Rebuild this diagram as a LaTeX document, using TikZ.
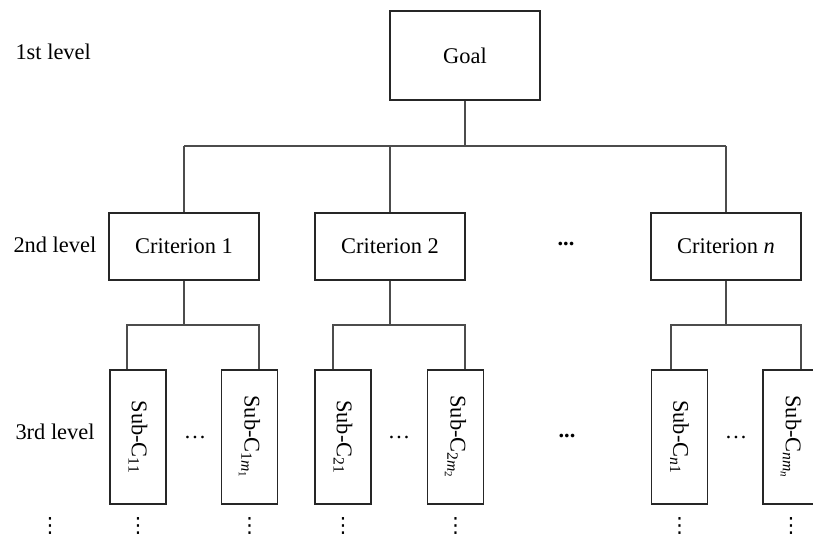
\documentclass[tikz,border=0pt]{standalone}
\usepackage{fontspec}
\setmainfont{Liberation Serif}
\newfontfamily\symfont{DejaVu Sans}
\newcommand\vdts{{\symfont\fontsize{21}{21}\selectfont ⋮}}
\begin{document}
\begin{tikzpicture}[x=1bp,y=-1bp,
  every node/.style={font=\fontsize{22.5}{26}\selectfont},
  box/.style={draw=black!85, line width=1.3bp, inner sep=0pt},
  critbox/.style={box, minimum width=150bp, minimum height=67bp},
  subbox/.style={box, minimum width=56bp, minimum height=134bp},
  link/.style={draw=black!70, line width=1.3bp},
  vd/.style={inner sep=0pt}
]
\clip (0,0) rectangle (813,538);
\fill[white] (0,0) rectangle (813,538);

% level labels
\node[anchor=west] (l1) at (12,52) {1st level};
\node[anchor=west] (l2) at (10,245) {2nd level};
\node[anchor=west] (l3) at (12,432) {3rd level};

% goal
\node[box, minimum width=150bp, minimum height=89bp] (goal) at (465,55.5) {Goal};

% criteria
\node[critbox] (c1) at (184,246.5) {Criterion 1};
\node[critbox] (c2) at (390,246.5) {Criterion 2};
\node[critbox] (cn) at (726,246.5) {Criterion \textit{n}};
\node (dots2) at (566,244) {\textbf{...}};

% top bar
\coordinate (tb) at (465,146);
\coordinate (t1) at (184,146);
\coordinate (t2) at (390,146);
\coordinate (tn) at (726,146);
\draw[link] (goal.south) -- (tb);
\draw[link] (t1) -- (tn);
\draw[link] (t1) -- (c1.north);
\draw[link] (t2) -- (c2.north);
\draw[link] (tn) -- (cn.north);

% sub criteria
\node[subbox] (s11) at (138,437) {\rotatebox{-90}{Sub-C\textsubscript{11}}};
\node[subbox] (s1m) at (249.5,437) {\rotatebox{-90}{Sub-C\textsubscript{1\textit{m}\textsubscript{1}}}};
\node[subbox] (s21) at (343,437) {\rotatebox{-90}{Sub-C\textsubscript{21}}};
\node[subbox] (s2m) at (455.5,437) {\rotatebox{-90}{Sub-C\textsubscript{2\textit{m}\textsubscript{2}}}};
\node[subbox] (sn1) at (679.5,437) {\rotatebox{-90}{Sub-C\textsubscript{\textit{n}1}}};
\node[subbox] (snm) at (791,437) {\rotatebox{-90}{Sub-C\textsubscript{\textit{nm}\textsubscript{\textit{n}}}}};

% sub bars
\coordinate (b1) at (184,325);
\coordinate (b1l) at (127,325);
\coordinate (b1r) at (259,325);
\coordinate (b2) at (390,325);
\coordinate (b2l) at (333,325);
\coordinate (b2r) at (465,325);
\coordinate (bn) at (726,325);
\coordinate (bnl) at (671,325);
\coordinate (bnr) at (801,325);
\draw[link] (c1.south) -- (b1);
\draw[link] (c2.south) -- (b2);
\draw[link] (cn.south) -- (bn);
\draw[link] (b1l |- s11.north) -- (b1l) -- (b1r) -- (b1r |- s1m.north);
\draw[link] (b2l |- s21.north) -- (b2l) -- (b2r) -- (b2r |- s2m.north);
\draw[link] (bnl |- sn1.north) -- (bnl) -- (bnr) -- (bnr |- snm.north);

% horizontal dots on level 3
\node (h1) at (195,437) {\ldots};
\node (h2) at (399,437) {\ldots};
\node (h3) at (567,436) {\textbf{...}};
\node (hn) at (736,437) {\ldots};

% vertical dots
\node[vd] (v0) at (50,526) {\vdts};
\node[vd] (v1) at (138,526) {\vdts};
\node[vd] (v2) at (249.5,526) {\vdts};
\node[vd] (v3) at (343,526) {\vdts};
\node[vd] (v4) at (455.5,526) {\vdts};
\node[vd] (v5) at (679.5,526) {\vdts};
\node[vd] (v6) at (791,526) {\vdts};
\end{tikzpicture}
\end{document}
